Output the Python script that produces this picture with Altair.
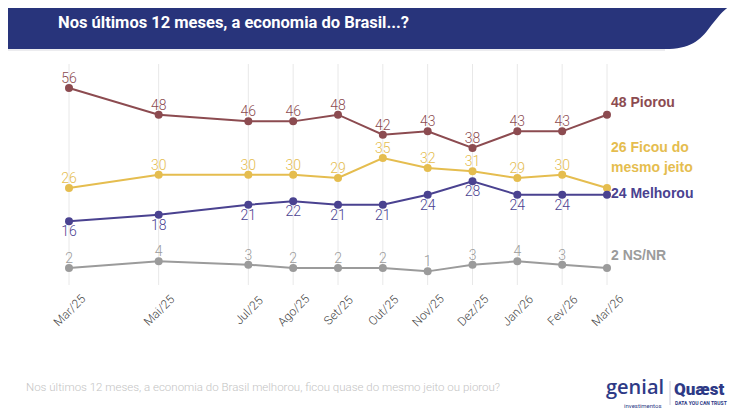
import altair as alt
import pandas as pd

# ---------------- data ----------------
dates = ["2025-03-01", "2025-05-01", "2025-07-01", "2025-08-01", "2025-09-01",
         "2025-10-01", "2025-11-01", "2025-12-01", "2026-01-01", "2026-02-01",
         "2026-03-01"]
tick_labels = ["Mar/25", "Mai/25", "Jul/25", "Ago/25", "Set/25", "Out/25",
               "Nov/25", "Dez/25", "Jan/26", "Fev/26", "Mar/26"]
series_names = ["Piorou", "Ficou do mesmo jeito", "Melhorou", "NS/NR"]
end_line1 = ["Piorou", "Ficou do", "Melhorou", "NS/NR"]
end_line2 = ["", "mesmo jeito", "", ""]
piorou = [56, 48, 46, 46, 48, 42, 43, 38, 43, 43, 48]
ficou = [26, 30, 30, 30, 29, 35, 32, 31, 29, 30, 26]
melhorou = [16, 18, 21, 22, 21, 21, 24, 28, 24, 24, 24]
nsnr = [2, 4, 3, 2, 2, 2, 1, 3, 4, 3, 2]
colors = ["#8C4B50", "#E5BD4F", "#4A4290", "#9B9B9B"]

title_text = "Nos últimos 12 meses, a economia do Brasil...?"
footer_text = "Nos últimos 12 meses, a economia do Brasil melhorou, ficou quase do mesmo jeito ou piorou?"

# month index relative to first survey month
month_idx = [(int(d[:4]) - int(dates[0][:4])) * 12 + int(d[5:7]) - int(dates[0][5:7]) for d in dates]

rows = []
for name, l1, l2, vals in zip(series_names, end_line1, end_line2, [piorou, ficou, melhorou, nsnr]):
    for d, m, lab, v in zip(dates, month_idx, tick_labels, vals):
        rows.append({"serie": name, "date": d, "m": m, "label": lab, "valor": v,
                     "last": m == month_idx[-1],
                     "end1": f"{v} {l1}", "end2": l2})
df = pd.DataFrame(rows)

# ---------------- scales ----------------
x_scale = alt.Scale(domain=[month_idx[0], month_idx[-1]], range=[61, 599], nice=False, zero=False)
y_scale = alt.Scale(domain=[0, 60], range=[266.7, 66.7], nice=False)
color_scale = alt.Scale(domain=series_names, range=colors)

label_expr = ("[" + ",".join(f"'{l}'" for l in tick_labels) + "][indexof(["
              + ",".join(str(m) for m in month_idx) + "], datum.value)]")
x_axis = alt.Axis(values=month_idx, labelExpr=label_expr, labelAngle=315,
                  labelAlign="center", labelBaseline="middle", labelPadding=25,
                  ticks=False, domain=False, grid=False, title=None,
                  labelFont="Roboto", labelFontSize=12, labelFontWeight=300,
                  labelColor="#444444",
                  labelOverlap=False, labelFlush=False)
X = alt.X("m:Q", scale=x_scale, axis=x_axis)
Y = alt.Y("valor:Q", scale=y_scale, axis=None)
C = alt.Color("serie:N", scale=color_scale, legend=None)

base = alt.Chart(df)

# ---------------- header ----------------
bar_path = ("M -0.1 -0.1 L 7.5 -0.1 L 7.5 -0.05 L 7.37 -0.05 "
            "C 7.19 -0.06 7.12 0.07 7.02 0.19 C 6.92 0.33 6.82 0.41 6.57 0.41 "
            "L -0.1 0.41 Z")
one = pd.DataFrame({"k": [0]})
header = alt.Chart(one).mark_point(shape=bar_path, size=40000, filled=True,
                                   color="#28347B", opacity=1, strokeWidth=0).encode(
    x=alt.value(0), y=alt.value(0))
shadow = alt.Chart(one).mark_rule(color="#e6e6ea", strokeWidth=1.5).encode(
    x=alt.value(0), x2=alt.value(657), y=alt.value(42))
title = alt.Chart(pd.DataFrame({"t": [title_text]})).mark_text(
    align="left", baseline="middle", font="Roboto",
    fontSize=16.5, fontWeight="bold", color="white").encode(
    x=alt.value(50), y=alt.value(15), text="t:N")

# ---------------- plot ----------------
grid = alt.Chart(pd.DataFrame({"m": month_idx})).mark_rule(color="#e8e8e8", strokeWidth=1).encode(
    x=X, y=alt.value(56), y2=alt.value(277))

lines = base.mark_line(strokeWidth=2).encode(x=X, y=Y, color=C)
points = base.mark_circle(size=64, opacity=1).encode(x=X, y=Y, color=C)

above = base.transform_filter("!datum.last && datum.serie != 'Melhorou'").mark_text(
    font="Roboto", fontSize=14, fontWeight=300, dy=-9, baseline="middle").encode(
    x=X, y=Y, color=C, text="valor:Q")
below = base.transform_filter("!datum.last && datum.serie == 'Melhorou'").mark_text(
    font="Roboto", fontSize=14, fontWeight=300, dy=11, baseline="middle").encode(
    x=X, y=Y, color=C, text="valor:Q")


def end_label(serie, field, dy):
    return base.transform_filter(
        f"datum.last && datum.serie == '{serie}'").mark_text(
        font="Liberation Sans, Arial, sans-serif", fontSize=14, fontWeight="bold",
        align="left", baseline="middle", dx=4, dy=dy).encode(
        x=X, y=Y, color=C, text=f"{field}:N")


ends = [
    end_label("Piorou", "end1", -12),
    end_label("Ficou do mesmo jeito", "end1", -40),
    end_label("Ficou do mesmo jeito", "end2", -20),
    end_label("Melhorou", "end1", -1),
    end_label("NS/NR", "end1", -12),
]

# ---------------- footer ----------------
footer = alt.Chart(pd.DataFrame({"t": [footer_text]})).mark_text(
    align="left", baseline="middle", font="Roboto", fontSize=11.5, fontWeight=300,
    color="#c4c4c4").encode(x=alt.value(18), y=alt.value(380), text="t:N")

logo_g = alt.Chart(pd.DataFrame({"t": ["genial"]})).mark_text(
    align="left", baseline="alphabetic", font="Open Sans", fontSize=20, fontWeight=600,
    color="#2E3A86").encode(x=alt.value(598), y=alt.value(386), text="t:N")
logo_g2 = alt.Chart(pd.DataFrame({"t": ["investimentos"]})).mark_text(
    align="left", baseline="middle", font="Roboto", fontSize=6,
    color="#2E3A86").encode(x=alt.value(616), y=alt.value(398), text="t:N")
logo_sep = alt.Chart(one).mark_rule(color="#c8c8d8", strokeWidth=1).encode(
    x=alt.value(662), y=alt.value(373), y2=alt.value(397))
logo_q = alt.Chart(pd.DataFrame({"t": ["Quæst"]})).mark_text(
    align="left", baseline="alphabetic", font="Roboto", fontSize=17, fontWeight=900,
    color="#2E3A86").encode(x=alt.value(666), y=alt.value(387), text="t:N")
logo_q2 = alt.Chart(pd.DataFrame({"t": ["DATA YOU CAN TRUST"]})).mark_text(
    align="left", baseline="middle", font="Roboto", fontSize=5, fontWeight="bold",
    color="#2E3A86").encode(x=alt.value(667), y=alt.value(395), text="t:N")

chart = alt.layer(
    header, shadow, title, grid, lines, points, above, below, *ends,
    footer, logo_g, logo_g2, logo_sep, logo_q, logo_q2
).properties(
    width=734, height=277,
    autosize=alt.AutoSizeParams(type="none"),
    padding={"left": 0, "top": 0, "right": 0, "bottom": 126},
).configure(background="white").configure_view(stroke=None)

chart.save("out.html", embed_options={"renderer": "svg", "actions": False})
